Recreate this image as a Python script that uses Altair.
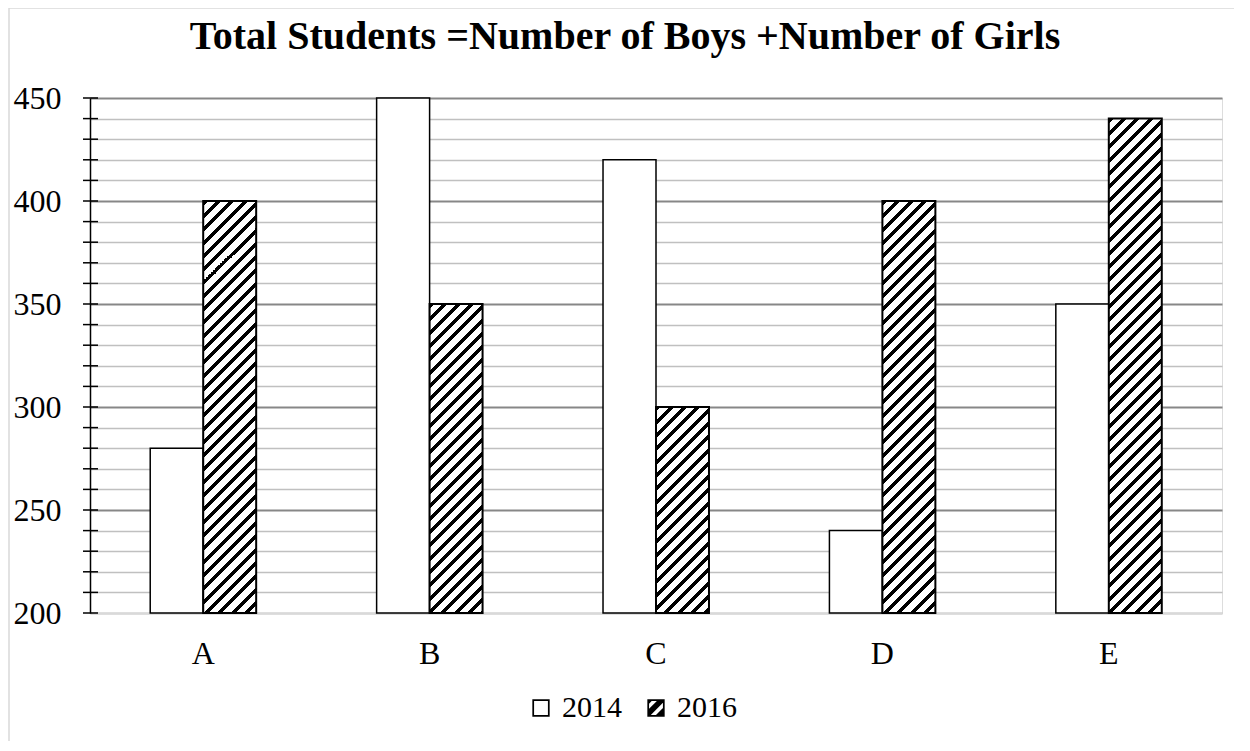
import altair as alt
import pandas as pd

# ---------------- data ----------------
categories = ["A", "B", "C", "D", "E"]
years = ["2014", "2016"]
students_2014 = [280, 450, 420, 240, 350]
students_2016 = [400, 350, 300, 400, 440]
y_tick_values = [200, 210, 220, 230, 240, 250, 260, 270, 280, 290, 300, 310, 320,
                 330, 340, 350, 360, 370, 380, 390, 400, 410, 420, 430, 440, 450]
title_text = "Total Students =Number of Boys +Number of Girls"

# ---------------- layout / style ----------------
W, H = 1132, 515
PAD_INNER, PAD_OUTER = 0.532, 0.266
Y_MIN, Y_MAX = 200, 450
FONT = "Liberation Serif"

rows = [{"cat": c, "year": "2014", "v": v} for c, v in zip(categories, students_2014)]
rows += [{"cat": c, "year": "2016", "v": v} for c, v in zip(categories, students_2016)]
df = pd.DataFrame(rows)
tick_df = pd.DataFrame({"v": y_tick_values})

step = W / (len(categories) - PAD_INNER + 2 * PAD_OUTER)
bar_w = step * (1 - PAD_INNER) / 2
px_per_unit = H / (Y_MAX - Y_MIN)

STRIPE_P = 13.3   # horizontal period of hatch (px)
STRIPE_B = 5.0    # black part (px)


def hatch_fill(w, h):
    L = w + h
    k = L / (w * w + h * h)
    stops = []
    x = 0.0
    while x < L - 1e-6:
        a = x / L
        b = min(x + STRIPE_B, L) / L
        c = min(x + STRIPE_P, L) / L
        stops += [{"offset": a, "color": "black"}, {"offset": b, "color": "black"},
                  {"offset": b, "color": "white"}, {"offset": c, "color": "white"}]
        x += STRIPE_P
    return {"gradient": "linear", "x1": 0, "y1": 0, "x2": w * k, "y2": h * k,
            "stops": stops}


def clip_band(c1, c2, a):
    poly = [(-a, -a), (a, -a), (a, a), (-a, a)]

    def clip(poly, f):
        out = []
        n = len(poly)
        for i in range(n):
            p, q = poly[i], poly[(i + 1) % n]
            fp, fq = f(p), f(q)
            if fp >= 0:
                out.append(p)
            if (fp >= 0) != (fq >= 0):
                t = fp / (fp - fq)
                out.append((p[0] + t * (q[0] - p[0]), p[1] + t * (q[1] - p[1])))
        return out

    poly = clip(poly, lambda p: p[0] + p[1] - c1)
    poly = clip(poly, lambda p: c2 - (p[0] + p[1]))
    return poly


def poly_path(poly):
    if len(poly) < 3:
        return ""
    s = "M%.3f,%.3f" % poly[0]
    for p in poly[1:]:
        s += "L%.3f,%.3f" % p
    return s + "Z"


RING_IN = 0.8
ring = "M-1,-1L1,-1L1,1L-1,1Z M-%g,-%gL-%g,%gL%g,%gL%g,-%gZ" % ((RING_IN,) * 8)
hatch_sym = ring
for k in range(4):
    c1 = -2.2 + k * 1.5
    hatch_sym += " " + poly_path(clip_band(c1, c1 + 0.9, RING_IN))

# ---------------- encodings ----------------
x_enc = alt.X("cat:N", title=None,
              scale=alt.Scale(domain=categories, paddingInner=PAD_INNER, paddingOuter=PAD_OUTER),
              axis=alt.Axis(labelFont=FONT, labelFontSize=32, labelColor="black", labelAngle=0,
                            labelPadding=25, ticks=False, domainColor="#d9d9d9", domainWidth=1.5,
                            grid=False))
xo_enc = alt.XOffset("year:N", scale=alt.Scale(domain=years))
y_scale = alt.Scale(domain=[Y_MIN, Y_MAX], nice=False, zero=False)
y_enc = alt.Y("v:Q", title=None, scale=y_scale,
              axis=alt.Axis(values=y_tick_values, ticks=False, tickSize=0,
                            labelExpr="datum.value % 50 == 0 ? datum.label : ''",
                            labelOverlap=False,
                            labelFont=FONT, labelFontSize=32, labelColor="black",
                            labelPadding=29, domainColor="black", domainWidth=1.5,
                            grid=True,
                            gridColor={"condition": {"test": "datum.value % 50 == 0 && datum.value > 200",
                                                     "value": "#878787"},
                                       "value": "#c0c0c0"},
                            gridWidth={"condition": {"test": "datum.value % 50 == 0",
                                                     "value": 2},
                                       "value": 1.3}))

base = alt.Chart(df)

bars14 = base.transform_filter(alt.datum.year == "2014").mark_bar(
    fill="white", stroke="black", strokeWidth=1.5).encode(
    x=x_enc, xOffset=xo_enc, y=y_enc, y2=alt.datum(Y_MIN))

layers = [bars14]
for c, v in zip(categories, students_2016):
    h = (v - Y_MIN) * px_per_unit
    layers.append(
        base.transform_filter((alt.datum.year == "2016") & (alt.datum.cat == c)).mark_bar(
            fill=hatch_fill(bar_w, h), stroke="black", strokeWidth=2).encode(
            x=x_enc, xOffset=xo_enc, y=y_enc, y2=alt.datum(Y_MIN)))

legend_pts = base.mark_point(filled=True, color="black", opacity=0).encode(
    x=x_enc, xOffset=xo_enc, y=y_enc,
    shape=alt.Shape("year:N", scale=alt.Scale(domain=years, range=[ring, hatch_sym]),
                    legend=alt.Legend(orient="none", legendX=436, legendY=595,
                                      direction="horizontal", title=None, symbolSize=300,
                                      symbolOpacity=1, symbolStrokeWidth=0,
                                      symbolFillColor="black", labelFont=FONT,
                                      labelFontSize=30, labelColor="black", labelOffset=6,
                                      columnPadding=19, padding=0)))
layers.append(legend_pts)

ticks = alt.Chart(tick_df).mark_rule(color="black", strokeWidth=1.5).encode(
    y=y_enc, x=alt.value(-7), x2=alt.value(8))
layers.append(ticks)

frame_df = pd.DataFrame({"k": [0]})
frame_left = alt.Chart(frame_df).mark_rule(color="#d9d9d9", strokeWidth=1.5).encode(
    x=alt.value(-81), y=alt.value(-90), y2=alt.value(650))
frame_top = alt.Chart(frame_df).mark_rule(color="#d9d9d9", strokeWidth=1.5).encode(
    x=alt.value(-81), x2=alt.value(1150), y=alt.value(-90))
layers += [frame_left, frame_top]

chart = alt.layer(*layers).properties(
    width=W, height=H,
    title=alt.TitleParams(title_text, font=FONT, fontSize=40, fontWeight="bold", color="black",
                          anchor="middle", frame="group", baseline="alphabetic",
                          dx=-31, offset=-82),
    autosize=alt.AutoSizeParams(type="none"),
    padding={"left": 82, "top": 90, "right": 12, "bottom": 128},
).configure_view(stroke=None).configure(background="white")

chart.save("out.html", embed_options={"renderer": "svg", "actions": False})
